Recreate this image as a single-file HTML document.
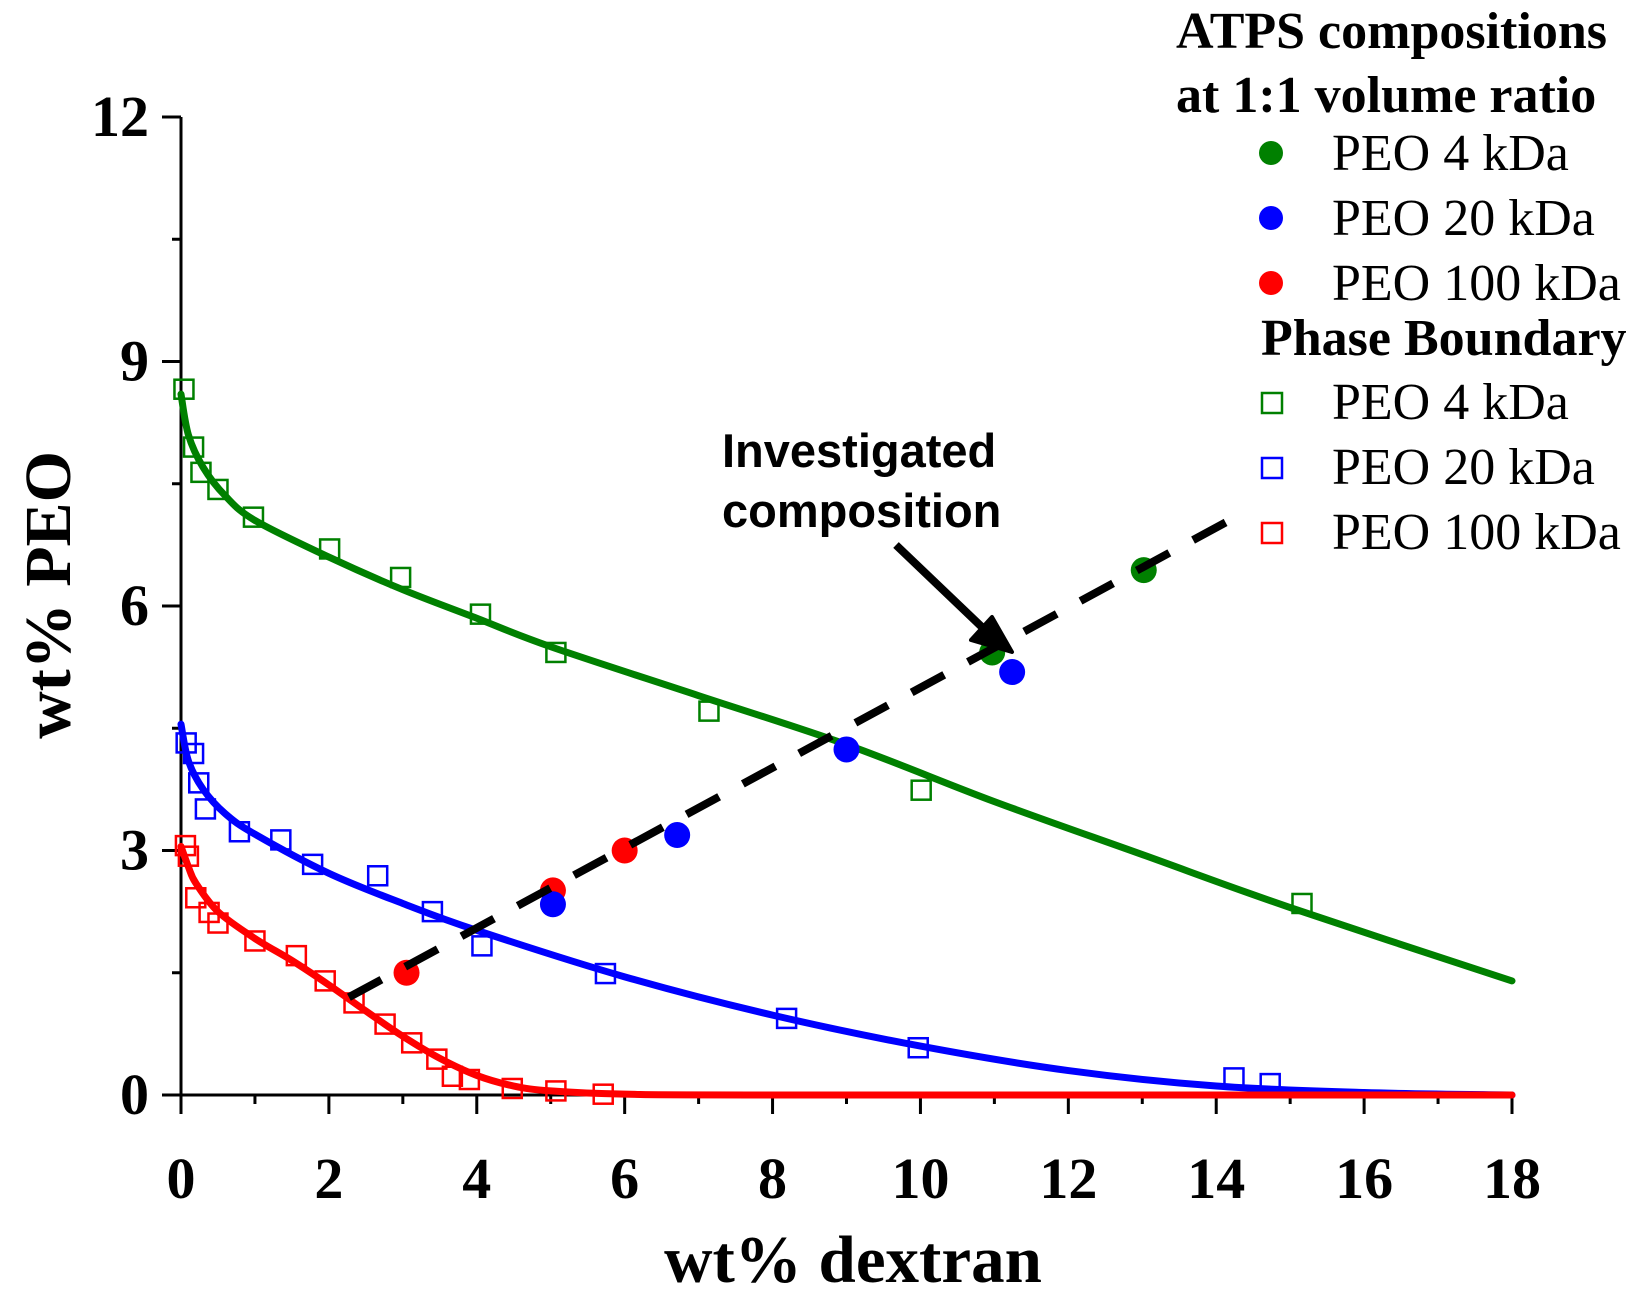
<!DOCTYPE html>
<html><head><meta charset="utf-8"><style>
html,body{margin:0;padding:0;background:#fff;}
svg{display:block;}
</style></head><body>
<svg id="chart" width="1642" height="1296" viewBox="0 0 1642 1296" xmlns="http://www.w3.org/2000/svg">
<g id="plot"></g>
<g id="legend" font-family="Liberation Serif, serif">
  <text x="1176" y="48" font-size="52" font-weight="bold">ATPS compositions</text>
  <text x="1176" y="112" font-size="52" font-weight="bold">at 1:1 volume ratio</text>
  <circle cx="1271" cy="153" r="12" fill="#008000"/>
  <text x="1332" y="170" font-size="52">PEO 4 kDa</text>
  <circle cx="1271" cy="218" r="12" fill="#0000ff"/>
  <text x="1332" y="235" font-size="52">PEO 20 kDa</text>
  <circle cx="1271" cy="283" r="12" fill="#ff0000"/>
  <text x="1332" y="300" font-size="52">PEO 100 kDa</text>
  <text x="1261" y="355" font-size="52" font-weight="bold">Phase Boundary</text>
  <rect x="1262" y="393" width="20" height="20" fill="none" stroke="#008000" stroke-width="2.5"/>
  <text x="1332" y="419" font-size="52">PEO 4 kDa</text>
  <rect x="1262" y="458" width="20" height="20" fill="none" stroke="#0000ff" stroke-width="2.5"/>
  <text x="1332" y="484" font-size="52">PEO 20 kDa</text>
  <rect x="1262" y="523" width="20" height="20" fill="none" stroke="#ff0000" stroke-width="2.5"/>
  <text x="1332" y="549" font-size="52">PEO 100 kDa</text>
</g>
</svg>
<script>
const xTicks=[0,2,4,6,8,10,12,14,16,18];
const yTicks=[0,3,6,9,12];
const xLabels=["0","2","4","6","8","10","12","14","16","18"];
const yLabels=["0","3","6","9","12"];
const greenSqX=[0.04,0.17,0.27,0.5,0.98,2.01,2.97,4.05,5.07,7.14,10.01,15.16];
const greenSqY=[8.66,7.95,7.64,7.43,7.09,6.70,6.35,5.90,5.43,4.71,3.74,2.35];
const blueSqX=[0.07,0.17,0.24,0.33,0.79,1.35,1.78,2.66,3.40,4.07,5.74,8.19,9.97,14.24,14.73];
const blueSqY=[4.32,4.19,3.83,3.51,3.23,3.13,2.83,2.69,2.25,1.83,1.49,0.94,0.58,0.21,0.14];
const redSqX=[0.06,0.1,0.2,0.38,0.5,1.0,1.56,1.95,2.34,2.76,3.12,3.46,3.67,3.9,4.48,5.07,5.71];
const redSqY=[3.06,2.93,2.42,2.24,2.11,1.89,1.71,1.40,1.13,0.87,0.64,0.44,0.23,0.19,0.08,0.05,0.01];
const greenFitX=[0,0.1,0.3,0.6,1,2,3,4,5,7,9,11,13,15,18];
const greenFitY=[8.6,8.1,7.7,7.35,7.05,6.6,6.2,5.85,5.5,4.9,4.3,3.6,2.95,2.3,1.4];
const blueFitX=[0,0.1,0.3,0.6,1,2,3,4,6,8,10,12,14,16,18];
const blueFitY=[4.55,4.1,3.75,3.45,3.2,2.72,2.35,2.02,1.45,0.98,0.6,0.3,0.11,0.03,0];
const redFitX=[0,0.1,0.2,0.5,1,1.5,2,2.5,3,3.5,4,4.5,5,6,8,18];
const redFitY=[3.05,2.8,2.6,2.25,1.92,1.65,1.35,1.03,0.72,0.45,0.24,0.11,0.05,0.01,0,0];
const atpsX=[3.05,5.03,6.0,5.03,6.71,9.0,11.24,10.97,13.02];
const atpsY=[1.50,2.51,3.0,2.34,3.19,4.24,5.19,5.43,6.44];
const atpsColor=["#ff0000","#ff0000","#ff0000","#0000ff","#0000ff","#0000ff","#0000ff","#008000","#008000"];
const dashX=[2.27,14.38];
const dashY=[1.2,7.15];

const X0=181,X1=1512,Y0=1095,Y1=117;
function sx(v){return X0+(v-0)/(18-0)*(X1-X0);}
function sy(v){return Y0-(v-0)/(12-0)*(Y0-Y1);}
const NS="http://www.w3.org/2000/svg";
const plot=document.getElementById('plot');
function mk(tag,attrs,parent){const e=document.createElementNS(NS,tag);for(const k in attrs)e.setAttribute(k,attrs[k]);(parent||plot).appendChild(e);return e;}
function pathD(xs,ys){return xs.map((x,i)=>(i?'L':'M')+sx(x).toFixed(1)+' '+sy(ys[i]).toFixed(1)).join(' ');}
function smoothD(xs,ys){
  let p=xs.map((x,i)=>[sx(x),sy(ys[i])]);
  let d='M'+p[0][0]+' '+p[0][1];
  for(let i=0;i<p.length-1;i++){
    const a=p[i-1]||p[i],b=p[i],c=p[i+1],e=p[i+2]||c;
    d+=' C'+(b[0]+(c[0]-a[0])/6)+' '+(b[1]+(c[1]-a[1])/6)+' '+(c[0]-(e[0]-b[0])/6)+' '+(c[1]-(e[1]-b[1])/6)+' '+c[0]+' '+c[1];
  }
  return d;
}
let ax=mk('line',{x1:X0,y1:Y0,x2:X1,y2:Y0,stroke:'#000','stroke-width':3});


let ay=mk('line',{x1:X0,y1:Y0,x2:X0,y2:Y1,stroke:'#000','stroke-width':3});


xTicks.forEach((t,i)=>{
  let l=mk('line',{x1:sx(t),y1:Y0,x2:sx(t),y2:Y0+19,stroke:'#000','stroke-width':3});
  
  
  if(i<xTicks.length-1){
    let m=mk('line',{x1:sx(t+1),y1:Y0,x2:sx(t+1),y2:Y0+9,stroke:'#000','stroke-width':3});
    
    
  }
  let tx=mk('text',{x:sx(t),y:1198,'text-anchor':'middle','font-family':'Liberation Serif, serif','font-weight':'bold','font-size':58});
  tx.textContent=xLabels[i];
  
  
});
yTicks.forEach((t,i)=>{
  let l=mk('line',{x1:X0-19,y1:sy(t),x2:X0,y2:sy(t),stroke:'#000','stroke-width':3});
  
  
  if(i<yTicks.length-1){
    let m=mk('line',{x1:X0-9,y1:sy(t+1.5),x2:X0,y2:sy(t+1.5),stroke:'#000','stroke-width':3});
    
    
  }
  let tx=mk('text',{x:149,y:sy(t)+19,'text-anchor':'end','font-family':'Liberation Serif, serif','font-weight':'bold','font-size':58});
  tx.textContent=yLabels[i];
  
  
});
let xt=mk('text',{x:853,y:1282,'text-anchor':'middle','font-family':'Liberation Serif, serif','font-weight':'bold','font-size':67});
xt.textContent='wt% dextran';


let yt=mk('text',{x:0,y:0,'text-anchor':'middle','font-family':'Liberation Serif, serif','font-weight':'bold','font-size':66,transform:'translate(70,595) rotate(-90)'});
yt.textContent='wt% PEO';


function squares(xs,ys,col,name){xs.forEach((x,i)=>{
  let r=mk('rect',{x:sx(x)-9.5,y:sy(ys[i])-9.5,width:19,height:19,fill:'none',stroke:col,'stroke-width':2.5});
  
  
});}
function fit(xs,ys,col,name){let p=mk('path',{d:smoothD(xs,ys),fill:'none',stroke:col,'stroke-width':7,'stroke-linecap':'round','stroke-linejoin':'round'});
  
  }
squares(greenSqX,greenSqY,'#008000','boundary-point-peo4');
squares(blueSqX,blueSqY,'#0000ff','boundary-point-peo20');
squares(redSqX,redSqY,'#ff0000','boundary-point-peo100');
fit(greenFitX,greenFitY,'#008000','fit-curve-peo4');
fit(blueFitX,blueFitY,'#0000ff','fit-curve-peo20');
fit(redFitX,redFitY,'#ff0000','fit-curve-peo100');
atpsX.forEach((x,i)=>{
  let c=mk('circle',{cx:sx(x),cy:sy(atpsY[i]),r:13,fill:atpsColor[i]});
  
  
});
let dl=mk('path',{d:pathD(dashX,dashY),stroke:'#000','stroke-width':8,'stroke-dasharray':'37 27',fill:'none'});


let an=mk('text',{x:722,y:467,'font-family':'Liberation Sans, sans-serif','font-weight':'bold','font-size':47});
an.textContent='Investigated';


let an2=mk('text',{x:722,y:527,'font-family':'Liberation Sans, sans-serif','font-weight':'bold','font-size':47});
an2.textContent='composition';


let ar=mk('line',{x1:896,y1:545,x2:985,y2:630,stroke:'#000','stroke-width':8});


let ah=mk('polygon',{points:'1012,652 971,640 992,617',fill:'#000',stroke:'#000','stroke-width':4,'stroke-linejoin':'round'});


</script>
</body></html>
